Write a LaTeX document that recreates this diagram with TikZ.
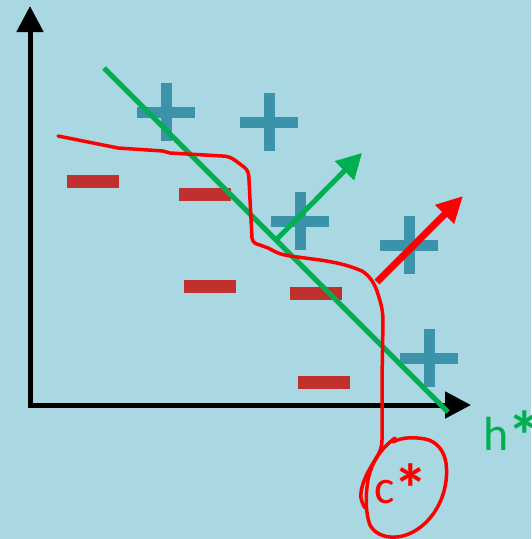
\documentclass[tikz,border=0pt]{standalone}
\usepackage{fontspec}
\setmainfont{Carlito}
\usetikzlibrary{arrows.meta}
\definecolor{bg}{HTML}{A9D7E2}
\definecolor{pluscol}{HTML}{3A93A9}
\definecolor{minuscol}{HTML}{C0302F}
\definecolor{grn}{HTML}{00B050}
\definecolor{rd}{HTML}{FF0000}
\newcommand{\bigast}{\hspace{-1pt}\raisebox{-10pt}{\scalebox{1.45}{\bfseries *}}}
\tikzset{
  axis/.style={line width=5pt,-{Triangle[length=26pt,width=26pt]}},
  minusbox/.style={fill=minuscol,draw=none,minimum width=52pt,minimum height=13pt,inner sep=0pt,shape=rectangle},
  plusbar/.style={fill=pluscol,draw=none,inner sep=0pt,shape=rectangle},
  redcurve/.style={rd,line width=3.5pt,line join=round,line cap=round},
  lbl/.style={font=\fontsize{48}{52}\selectfont,inner sep=0pt,anchor=base west},
  pics/plussign/.style={code={
    \node[plusbar,minimum width=58pt,minimum height=11pt] {};
    \node[plusbar,minimum width=11pt,minimum height=58pt] {};
  }}
}
\begin{document}
\begin{tikzpicture}[x=1pt,y=-1pt]
\fill[bg] (0,0) rectangle (531,539);
\useasboundingbox (0,0) rectangle (531,539);
% axes
\coordinate (O) at (30,405);
\coordinate (Ytip) at (30,6);
\coordinate (Xtip) at (471,405);
\draw[axis] (O) -- (Ytip);
\draw[axis] ([xshift=-2.5pt]O) -- (Xtip);
% plus signs
\pic at (166,112) {plussign};
\pic at (269,122) {plussign};
\pic at (300,221) {plussign};
\pic at (409,245) {plussign};
\pic at (429,358) {plussign};
% minus signs
\node[minusbox] (m1) at (93,181.5) {};
\node[minusbox] (m2) at (204.5,194) {};
\node[minusbox] (m3) at (209.5,286.5) {};
\node[minusbox] (m4) at (316,293.5) {};
\node[minusbox] (m5) at (324,382) {};
% green separating line
\coordinate (g1) at (104,68);
\coordinate (g2) at (448,412);
\draw[grn,line width=5pt] (g1) -- (g2);
% green normal arrow
\coordinate (ga) at (276,240);
\coordinate (gb) at (362,153);
\draw[grn,line width=5pt,-{Triangle[length=25pt,width=26pt]}] (ga) -- (gb);
% red normal arrow
\coordinate (ra) at (377,282);
\coordinate (rb) at (463,196);
\draw[rd,line width=7pt,-{Triangle[length=26pt,width=25pt]}] (ra) -- (rb);
% red curve
\draw[redcurve] (58,136) -- (118,148) -- (163,151) -- (170,153) -- (222,156)
  .. controls (228,156) and (232,158) .. (236,161) -- (244,167)
  .. controls (248,170) and (249,174) .. (249,180)
  -- (252,238) .. controls (253,243) and (256,244) .. (260,245)
  -- (268,248) .. controls (276,252) and (278,254) .. (290,256)
  -- (320,260) .. controls (340,263) and (350,266) .. (362,271)
  .. controls (370,276) and (375,284) .. (378,294)
  .. controls (381,304) and (383,310) .. (383,322)
  -- (382,380) -- (382,440) .. controls (382,450) and (378,455) .. (372,465)
  .. controls (364,478) and (360,490) .. (361,498)
  .. controls (362,503) and (364,506) .. (365,508);
% loop around c*
\draw[redcurve] (395,438) .. controls (382,448) and (372,460) .. (368,480)
  .. controls (365,498) and (366,515) .. (370,525)
  .. controls (374,533) and (384,538) .. (396,537)
  .. controls (412,536) and (428,524) .. (437,508)
  .. controls (445,494) and (448,478) .. (446,463)
  .. controls (444,450) and (436,441) .. (425,439)
  .. controls (414,437) and (402,437) .. (393,442);
% labels
\node[lbl,text=rd] (c) at (374,503) {c\bigast};
\node[lbl,text=grn] (h) at (483,450) {h\bigast};
\end{tikzpicture}
\end{document}
